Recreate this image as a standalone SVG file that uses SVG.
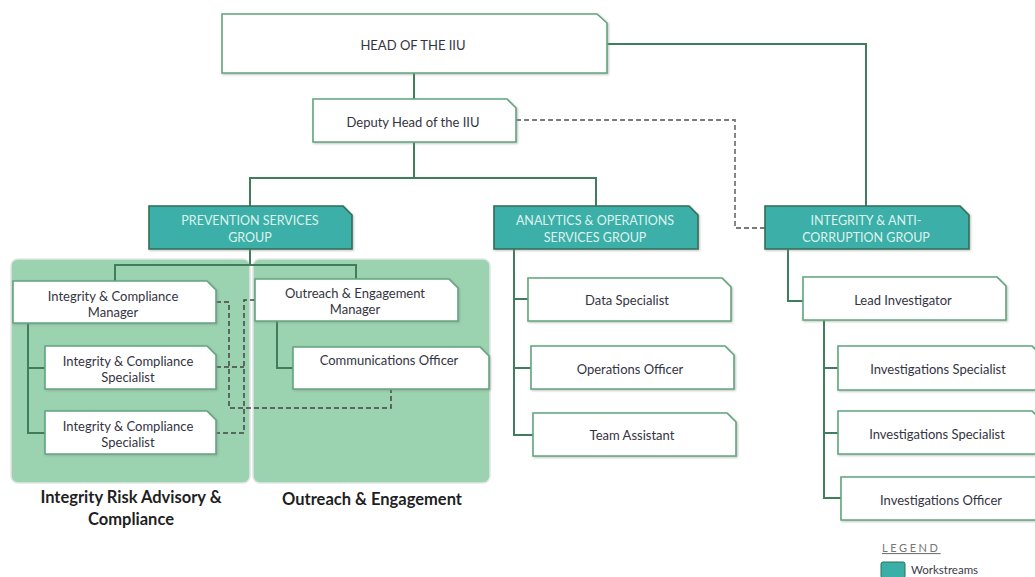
<svg xmlns="http://www.w3.org/2000/svg" width="1035" height="577" viewBox="0 0 1035 577">
  <defs>
    <filter id="soft" x="-5%" y="-10%" width="110%" height="125%">
      <feDropShadow dx="1" dy="1" stdDeviation="0.8" flood-color="#8a8a8a" flood-opacity="0.55"/>
    </filter>
  </defs>
  <style>
    .box { fill: #ffffff; stroke: #5fa67d; stroke-width: 1.6; filter: url(#soft); }
    .grp { fill: #3aafa8; stroke: #2f6f55; stroke-width: 1.6; filter: url(#soft); }
    .ws { fill: #9bd2b0; stroke: #e2e6e3; stroke-width: 1.5; }
    .t { font-family: Lato, "Open Sans", sans-serif; font-size: 13px; fill: #34343f; text-anchor: middle; }
    .tg { font-family: Lato, "Open Sans", sans-serif; font-size: 12.5px; fill: #dff3ee; text-anchor: middle; }
    .lbl { font-family: Lato, "Open Sans", sans-serif; font-size: 16.5px; font-weight: bold; fill: #1f1f1f; text-anchor: middle; }
    .solid { fill: none; stroke: #3f7d5d; stroke-width: 2; }
    .dash { fill: none; stroke: #444444; stroke-width: 1.5; stroke-dasharray: 5 3; }
    .dashg { fill: none; stroke: #7a7a7a; stroke-width: 1.8; stroke-dasharray: 5 3; }
  </style>

  <!-- workstream panels -->
  <g id="ws-integrity-risk">
    <rect class="ws" x="11" y="259" width="239" height="224" rx="7"/>
    <text class="lbl" x="131" y="503">Integrity Risk Advisory &amp;</text>
    <text class="lbl" x="131" y="525">Compliance</text>
  </g>
  <g id="ws-outreach">
    <rect class="ws" x="253" y="259" width="237" height="224" rx="7"/>
    <text class="lbl" x="372" y="505">Outreach &amp; Engagement</text>
  </g>

  <!-- connectors -->
  <g id="connectors">
    <path class="solid" d="M414 73 V99"/>
    <path class="solid" d="M607 44 H866 V206"/>
    <path class="dashg" d="M516 120 H735 V228 H765"/>
    <path class="solid" d="M414 142 V178 M250 206 V178 H596 V206"/>
    <path class="solid" d="M250 249 V265 M115 281 V265 H356 V279"/>
    <path class="solid" d="M28 323 V433 H45 M28 368 H45"/>
    <path class="solid" d="M277 321 V368 H293"/>
    <path class="dash" d="M216 302 H229 V408 H391 V390"/>
    <path class="dash" d="M255 300 H244 V433 H216 M216 367 H244"/>
    <path class="solid" d="M514 249 V435 H533 M514 299 H528 M514 368 H531"/>
    <path class="solid" d="M788 249 V301 H803"/>
    <path class="solid" d="M824 320 V498 H841 M824 368 H838 M824 433 H838"/>
  </g>

  <!-- top management -->
  <g id="head">
    <path class="box" d="M222 14 H597 L607 23 V73 H222 Z"/>
    <text class="t" x="413" y="50">HEAD OF THE IIU</text>
  </g>
  <g id="deputy">
    <path class="box" d="M313 99 H507 L516 108 V142 H313 Z"/>
    <text class="t" x="413" y="127">Deputy Head of the IIU</text>
  </g>

  <!-- groups -->
  <g id="prevention-group">
    <path class="grp" d="M149 206 H343 L352 215 V249 H149 Z"/>
    <text class="tg" x="250" y="225">PREVENTION SERVICES</text>
    <text class="tg" x="250" y="242">GROUP</text>
  </g>
  <g id="analytics-group">
    <path class="grp" d="M494 206 H689 L698 215 V249 H494 Z"/>
    <text class="tg" x="595" y="225">ANALYTICS &amp; OPERATIONS</text>
    <text class="tg" x="595" y="242">SERVICES GROUP</text>
  </g>
  <g id="anticorruption-group">
    <path class="grp" d="M765 206 H960 L969 215 V249 H765 Z"/>
    <text class="tg" x="866" y="225">INTEGRITY &amp; ANTI-</text>
    <text class="tg" x="866" y="242">CORRUPTION GROUP</text>
  </g>

  <!-- prevention services roles -->
  <g id="ic-manager">
    <path class="box" d="M13 281 H207 L216 290 V323 H13 Z"/>
    <text class="t" x="113" y="301">Integrity &amp; Compliance</text>
    <text class="t" x="113" y="317">Manager</text>
  </g>
  <g id="ic-specialist-1">
    <path class="box" d="M45 346 H207 L216 355 V389 H45 Z"/>
    <text class="t" x="128" y="366">Integrity &amp; Compliance</text>
    <text class="t" x="128" y="382">Specialist</text>
  </g>
  <g id="ic-specialist-2">
    <path class="box" d="M45 411 H207 L216 420 V454 H45 Z"/>
    <text class="t" x="128" y="431">Integrity &amp; Compliance</text>
    <text class="t" x="128" y="447">Specialist</text>
  </g>
  <g id="oe-manager">
    <path class="box" d="M255 279 H449 L458 288 V321 H255 Z"/>
    <text class="t" x="355" y="298">Outreach &amp; Engagement</text>
    <text class="t" x="355" y="314">Manager</text>
  </g>
  <g id="comms-officer">
    <path class="box" d="M293 347 H480 L489 356 V389 H293 Z"/>
    <text class="t" x="389" y="365">Communications Officer</text>
  </g>

  <!-- analytics roles -->
  <g id="data-specialist">
    <path class="box" d="M528 278 H722 L731 287 V321 H528 Z"/>
    <text class="t" x="627" y="305">Data Specialist</text>
  </g>
  <g id="operations-officer">
    <path class="box" d="M531 346 H725 L734 355 V389 H531 Z"/>
    <text class="t" x="630" y="374">Operations Officer</text>
  </g>
  <g id="team-assistant">
    <path class="box" d="M533 413 H727 L736 422 V456 H533 Z"/>
    <text class="t" x="632" y="440">Team Assistant</text>
  </g>

  <!-- anti-corruption roles -->
  <g id="lead-investigator">
    <path class="box" d="M803 277 H997 L1006 286 V320 H803 Z"/>
    <text class="t" x="903" y="305">Lead Investigator</text>
  </g>
  <g id="inv-specialist-1">
    <path class="box" d="M838 346 H1032 L1041 355 V390 H838 Z"/>
    <text class="t" x="938" y="374">Investigations Specialist</text>
  </g>
  <g id="inv-specialist-2">
    <path class="box" d="M838 411 H1032 L1041 420 V454 H838 Z"/>
    <text class="t" x="937" y="439">Investigations Specialist</text>
  </g>
  <g id="inv-officer">
    <path class="box" d="M841 477 H1035 L1044 486 V520 H841 Z"/>
    <text class="t" x="941" y="505">Investigations Officer</text>
  </g>

  <!-- legend -->
  <g id="legend">
    <text x="882" y="552" style="font-family: Lato, 'Open Sans', sans-serif; font-size: 11px; fill: #777777; letter-spacing: 2.6px; text-decoration: underline;">LEGEND</text>
    <rect x="881" y="562" width="24" height="16" rx="2" fill="#3aafa8" stroke="#2f6f55" stroke-width="1"/>
    <text x="911" y="574" style="font-family: Lato, 'Open Sans', sans-serif; font-size: 11.5px; fill: #3b3b47;">Workstreams</text>
  </g>
</svg>
